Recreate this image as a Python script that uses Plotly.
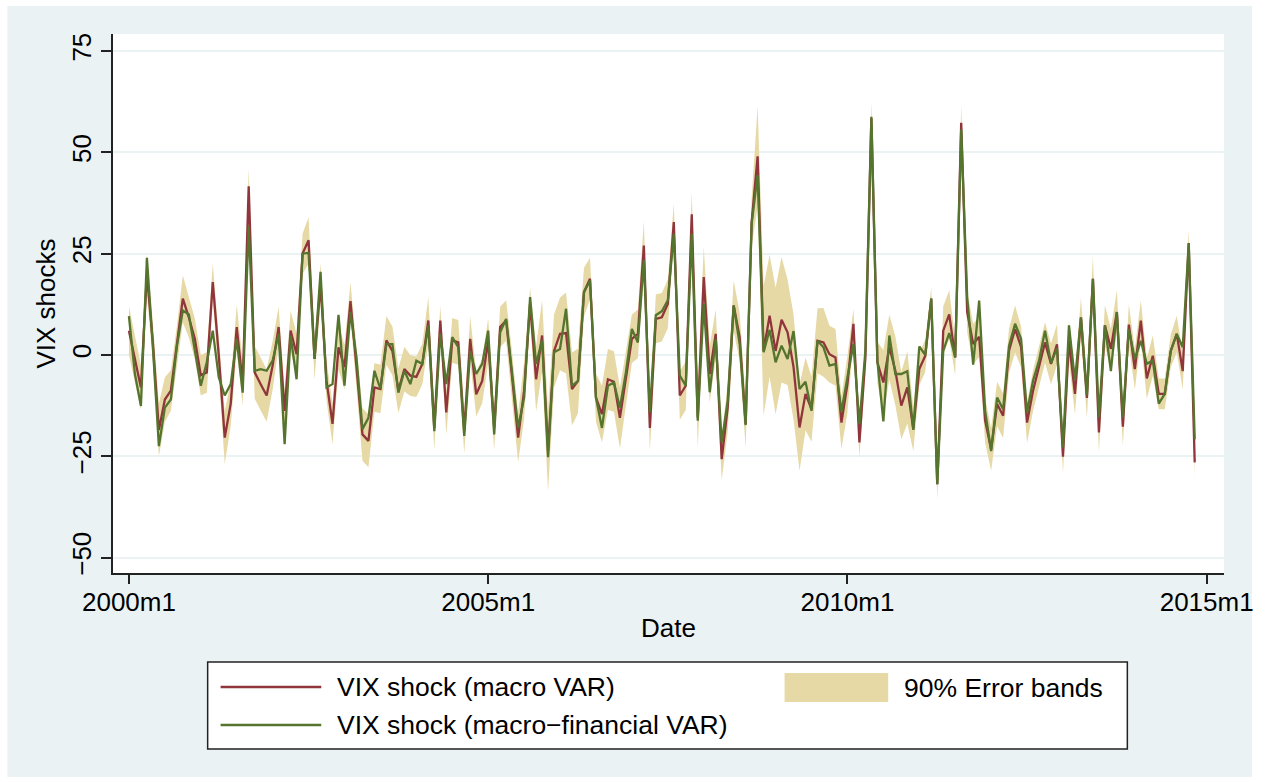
import plotly.graph_objects as go

# ---------------- data ----------------
start_year = 2000
n_months = 179  # 2000m1 .. 2014m11

vix_macro = [
    6, -1, -8, 20, 3, -18.5, -11, -8.8, 2, 13.9,
    9.3, 4, -5, -4.3, 18, 0, -20.4, -12, 6.9, -7,
    41.6, -4.3, -7.2, -10, -2.6, 6.9, -13.8, 6, 0.2, 25,
    28.3, -1, 17.6, -6.4, -17, 1.9, -3, 13.3, -3, -19.6,
    -21.2, -8, -8.4, 3.6, 1, -8.8, -3.5, -5.1, -5.4, -2.2,
    8.5, -18, 8.5, -14.2, 3.6, 3.1, -18.8, 4, -9.7, -6.4,
    3.5, -18, 6.9, 8.5, -5.5, -20.4, -8.8, 12.6, -6, 4.8,
    -23.7, 1, 5.2, 5.4, -8.4, -6.4, 15.5, 18.8, -10.5, -14.6,
    -6, -6.6, -15.5, -5.5, 4, 5.2, 27, -18, 8.9, 9.3,
    12.6, 32.8, -10, -7.6, 34.7, -15.5, 19.2, -4.7, 5.2, -25.7,
    -13, 12.2, 4.4, -17, 32.8, 49, 1, 9.7, 1, 8.7,
    5.6, -3, -17.9, -9.6, -13.4, 3.5, 3.1, 0.2, -0.6, -16.7,
    -7.2, 7.7, -21.6, -0.6, 58.4, -1.8, -6.8, 1.9, -3.9, -12.5,
    -8, -18.3, -3.5, -0.2, 13.9, -31.9, 6, 10, -0.6, 57.3,
    10.6, 2.7, 4.5, -16.2, -23.3, -12.1, -15, 1.1, 6.4, 2,
    -16.7, -8.8, -3, 3.1, -2.2, 2.6, -25.1, 3.5, -9.6, 9.2,
    -10.6, 18.8, -19.1, 7.3, 1.5, 10.6, -17.7, 7.5, -3.5, 8.5,
    -5.8, -0.2, -9.6, -9.6, 1, 5.2, -4, 27.6, -26.5,
]

vix_macro_fin = [
    9.6, -4.7, -12.6, 24, 2, -22.5, -13, -11, 2, 11,
    10, 1, -7.6, -1.8, 6, -5.5, -10, -7.2, 4, -9.3,
    31.8, -3.9, -3.5, -3.9, -1.4, 5.2, -22, 4.8, -6, 25,
    25.2, -1, 20.5, -8, -7.2, 9.9, -7.6, 10.6, -0.6, -18.3,
    -15.5, -3.9, -8.4, 2.7, 2.7, -9.3, -3.9, -7.2, -1.4, -2.2,
    7.3, -18.8, 5.2, -7.2, 4.4, 1.9, -20, 1, -4.7, -2.2,
    6, -19.6, 5.6, 8.9, -3.9, -18, -10.5, 14.3, -2.2, 3.6,
    -25.2, 0.7, 1.5, 11.4, -7.6, -6.4, 15.5, 18.4, -10.5, -18,
    -7.6, -6.8, -13, -4.3, 6.4, 3.1, 23.4, -14.2, 9.8, 10.8,
    13.5, 29.9, -5.1, -7.6, 29.9, -16.2, 12.6, -9.2, 4, -21.6,
    -11.3, 12.2, 2.7, -17.3, 32.4, 44.4, 0.7, 6.2, -1.8, 2.3,
    -1, 5.9, -8.4, -6.6, -13.8, 3.5, 1.9, -2.6, -2.2, -14,
    -5.5, 2.7, -17.1, 1.1, 58.8, -1.4, -16.4, 4.8, -4.7, -4.7,
    -4, -18.5, 2.1, 0, 13.9, -31.9, 1, 5.4, -0.6, 55.6,
    14.3, -2.4, 13.4, -13.8, -23.7, -10.5, -13.4, 2.3, 7.7, 4,
    -14.2, -6.3, -1.4, 6, -2, 1.7, -22.8, 7.3, -6.3, 9.3,
    -10, 18.8, -15.4, 7.3, -4, 10.6, -15.4, 6.4, -1, 3.5,
    -2.2, -1.4, -12, -9.6, 1, 5.2, 1.9, 27.6, -20.8,
]

# half-width of the 90% error band around the macro-VAR shock (read per month)
band_halfwidth = [
    6, 5.5, 5.5, 5, 5, 6.5, 5.5, 5, 5, 5.8,
    5, 5, 5, 5, 4.6, 5, 6.5, 5.5, 5.5, 5.5,
    4.5, 6.5, 6.5, 6.5, 6, 5, 5, 5, 5, 5,
    5.7, 5, 5, 5, 5, 5.5, 5.5, 4.5, 5, 6.5,
    6.5, 6, 6, 6, 6, 5.5, 5.5, 5, 5, 5,
    5.8, 5.5, 3.5, 5.5, 5.5, 5.5, 5.5, 5.5, 5.5, 5.5,
    5.5, 5.5, 5, 5, 6, 6, 7, 4, 8, 8.8,
    10, 9, 9, 10, 9, 8, 6, 5.2, 6, 7,
    7.5, 7.5, 7.5, 7, 6, 6, 6, 5.7, 6, 6,
    6, 4.5, 6, 6, 5.5, 7.5, 7.5, 7, 6, 5.2,
    6, 6.2, 6, 6, 6, 12.4, 16, 15, 15.6, 15.5,
    13, 13, 10.7, 9, 8, 8, 8.5, 7, 7, 6.5,
    7, 3.7, 3.7, 4, 4.2, 5, 8, 8, 8.5, 8.3,
    9, 5.4, 4, 4, 2.8, 3.7, 6, 6, 4.4, 4.4,
    5, 5, 5, 5.5, 5.3, 5.5, 5.5, 5.5, 5.8, 5,
    5, 5, 5, 5, 5, 5, 4, 5, 5, 5,
    5, 5.5, 5, 5, 5, 5.4, 4.7, 5, 5, 5,
    5, 5, 3.8, 3.8, 4, 4.5, 4.5, 3.3, 3.7,
]

x_tick_vals = [0, 60, 120, 180]
x_tick_text = ["2000m1", "2005m1", "2010m1", "2015m1"]
y_tick_vals = [-50, -25, 0, 25, 50, 75]
y_tick_text = ["\u221250", "\u221225", "0", "25", "50", "75"]

legend_labels = ["VIX shock (macro VAR)",
                 "VIX shock (macro\u2212financial VAR)",
                 "90% Error bands"]

# ---------------- derived ----------------
month_idx = list(range(n_months))
month_lbl = [f"{start_year + i // 12}m{i % 12 + 1}" for i in month_idx]
band_lo = [v - h for v, h in zip(vix_macro, band_halfwidth)]
band_hi = [v + h for v, h in zip(vix_macro, band_halfwidth)]

RED = "#90353B"
GREEN = "#55752F"
BAND = "#E6D9A6"
BG = "#EAF2F3"
FONT = "Liberation Sans, Arial, Helvetica, sans-serif"

W, H = 1266, 782
L, R, T, B = 113, 1228, 34, 573  # plot area in pixels
PW, PH = R - L, B - T


def px(xw):
    """pixel x -> paper coordinate"""
    return (xw - L) / PW


def py(yw):
    """pixel y -> paper coordinate"""
    return (B - yw) / PH


fig = go.Figure()
fig.add_trace(go.Scatter(x=month_idx, y=band_lo, mode="lines",
                         line=dict(width=0, color=BAND), hoverinfo="skip",
                         showlegend=False))
fig.add_trace(go.Scatter(x=month_idx, y=band_hi, mode="lines", fill="tonexty",
                         fillcolor=BAND, line=dict(width=0, color=BAND),
                         text=month_lbl, showlegend=False, name=legend_labels[2]))
fig.add_trace(go.Scatter(x=month_idx, y=vix_macro, mode="lines",
                         line=dict(color=RED, width=2.3), text=month_lbl,
                         showlegend=False, name=legend_labels[0]))
fig.add_trace(go.Scatter(x=month_idx, y=vix_macro_fin, mode="lines",
                         line=dict(color=GREEN, width=2.3), text=month_lbl,
                         showlegend=False, name=legend_labels[1]))

shapes = [
    # outer light background
    dict(type="rect", xref="paper", yref="paper", layer="below",
         x0=px(7), x1=px(1256), y0=py(777), y1=py(6),
         fillcolor=BG, line=dict(width=0)),
    # white plot region
    dict(type="rect", xref="paper", yref="paper", layer="below",
         x0=0, x1=1, y0=0, y1=1, fillcolor="white", line=dict(width=0)),
    # legend box
    dict(type="rect", xref="paper", yref="paper",
         x0=px(208), x1=px(1131), y0=py(749), y1=py(662),
         fillcolor="white", line=dict(color="#222222", width=1.5)),
    dict(type="line", xref="paper", yref="paper",
         x0=px(221), x1=px(322), y0=py(687), y1=py(687),
         line=dict(color=RED, width=2.3)),
    dict(type="line", xref="paper", yref="paper",
         x0=px(221), x1=px(322), y0=py(725), y1=py(725),
         line=dict(color=GREEN, width=2.3)),
    dict(type="rect", xref="paper", yref="paper",
         x0=px(787), x1=px(891), y0=py(702), y1=py(673),
         fillcolor=BAND, line=dict(width=0)),
]

annotations = [
    dict(xref="paper", yref="paper", x=px(336), y=py(687), text=legend_labels[0],
         showarrow=False, xanchor="left", yanchor="middle",
         font=dict(size=26.5, color="black", family=FONT)),
    dict(xref="paper", yref="paper", x=px(336), y=py(725), text=legend_labels[1],
         showarrow=False, xanchor="left", yanchor="middle",
         font=dict(size=26.5, color="black", family=FONT)),
    dict(xref="paper", yref="paper", x=px(905), y=py(688), text=legend_labels[2],
         showarrow=False, xanchor="left", yanchor="middle",
         font=dict(size=26.5, color="black", family=FONT)),
]

fig.update_layout(
    width=W, height=H,
    margin=dict(l=L, r=W - R, t=T, b=H - B, pad=0),
    paper_bgcolor="white", plot_bgcolor="white",
    font=dict(family=FONT, size=26, color="black"),
    showlegend=False,
    shapes=shapes, annotations=annotations,
    xaxis=dict(range=[(L - 129) / 6.009, (R - 129) / 6.009],
               tickvals=x_tick_vals, ticktext=x_tick_text,
               showline=True, linecolor="#222222", linewidth=1.5,
               ticks="outside", ticklen=9, tickwidth=1.5, tickcolor="#222222",
               showgrid=False, zeroline=False,
               tickfont=dict(size=26), ticklabelstandoff=-4,
               title=dict(text="Date", font=dict(size=26), standoff=3)),
    yaxis=dict(range=[-53.8, 79.2],
               tickvals=y_tick_vals, ticktext=y_tick_text, tickangle=-90,
               showline=True, linecolor="#222222", linewidth=1.5,
               ticks="outside", ticklen=10, tickwidth=1.5, tickcolor="#222222",
               showgrid=True, gridcolor=BG, gridwidth=1.5,
               zeroline=False, tickfont=dict(size=26),
               title=dict(text="VIX shocks", font=dict(size=26), standoff=4)),
)

fig.write_html(
    "out.html",
    config={"displayModeBar": False},
    post_script="document.body.style.margin='0';"
                "document.documentElement.style.overflow='hidden';",
)
